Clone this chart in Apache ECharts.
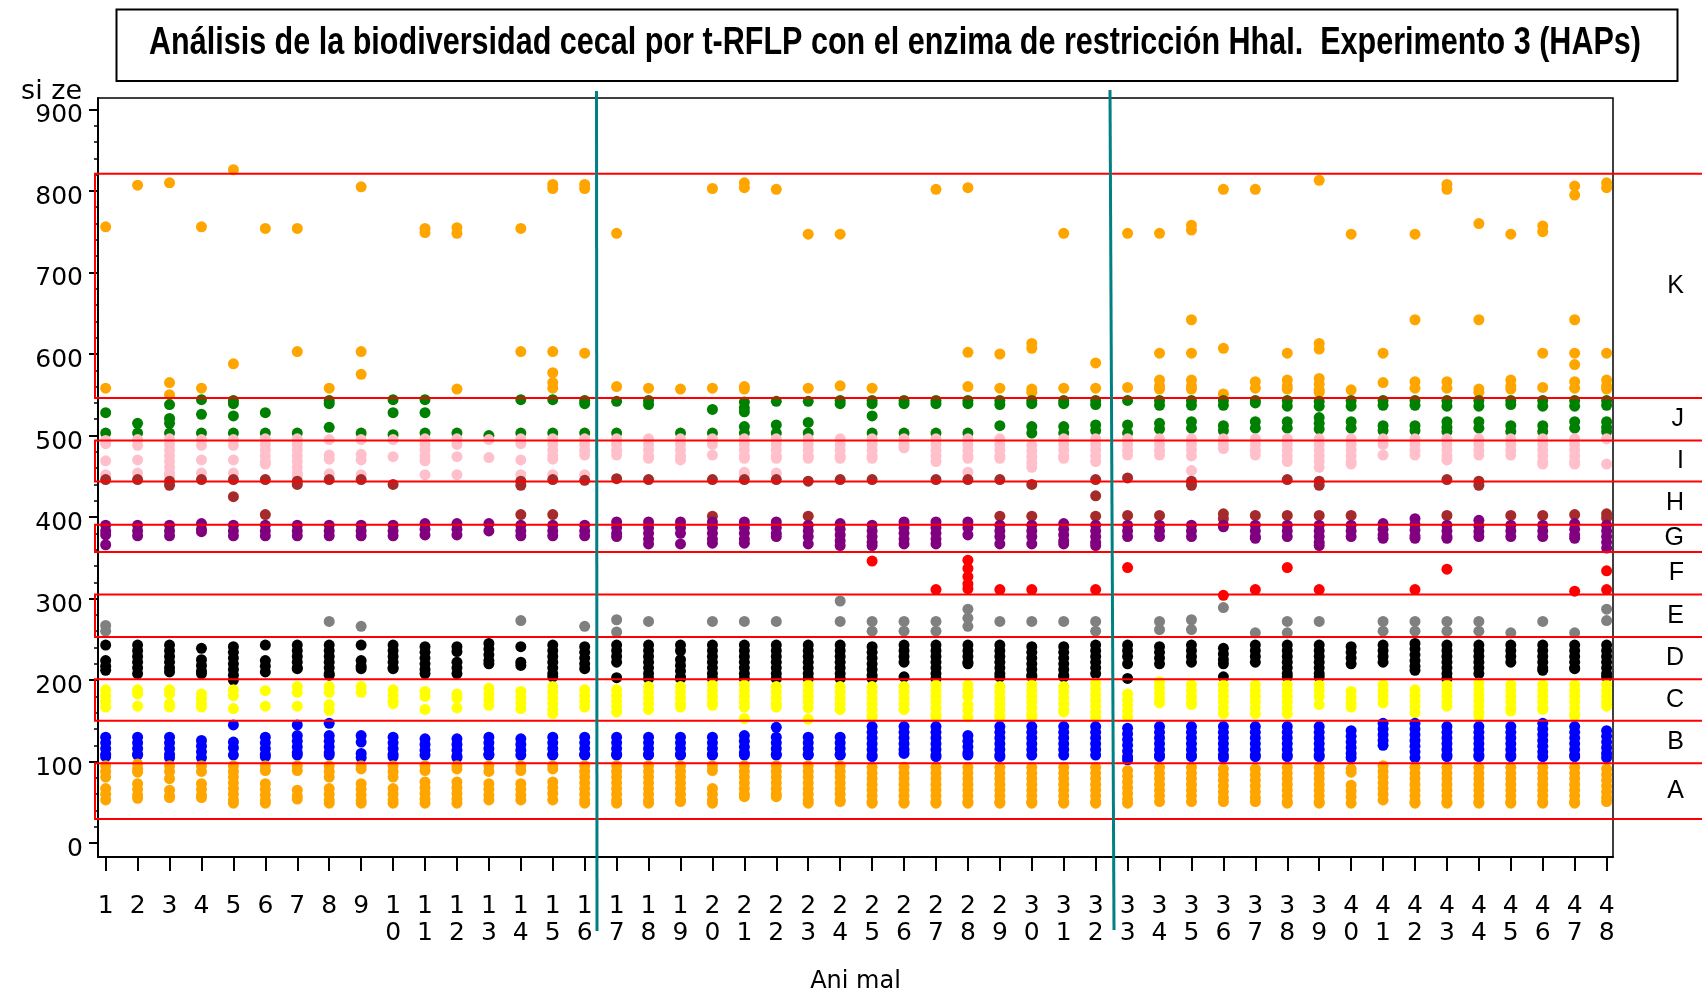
<!DOCTYPE html>
<html>
<head>
<meta charset="utf-8">
<script src="https://cdn.jsdelivr.net/npm/echarts@6/dist/echarts.min.js"></script>
<style>
  html, body { margin: 0; padding: 0; background: #ffffff; }
  #chart { width: 1702px; height: 991px; }
</style>
</head>
<body>
<div id="chart"></div>
<script>
// Animals on the x axis
const animals = [1,2,3,4,5,6,7,8,9,10,11,12,13,14,15,16,17,18,19,20,21,22,23,24,
                 25,26,27,28,29,30,31,32,33,34,35,36,37,38,39,40,41,42,43,44,45,46,47,48];

// Fragment sizes (bp) found in each animal, grouped by band; one list per animal
const bandA = [
  [95,88,81,67,60,53],[97,91,87,73,66,59,55],[95,88,79,65,58,56],[95,88,73,66,59,56],
  [95,88,81,74,67,60,53,49],[95,89,73,66,59,52,49],[95,89,65,58,54],[95,88,81,67,60,53,49],
  [95,91,73,66,59,52,49],[95,88,81,67,60,53,49],[95,89,75,68,61,54,49],[95,91,75,68,61,54,49],
  [95,88,73,66,59,53],[95,89,73,66,59,53],[95,91,75,68,61,53],[95,88,81,74,67,60,53,49],
  [95,88,81,74,67,60,53,49],[95,88,81,74,67,60,53,49],[95,88,81,74,67,60,53,51],[95,89,67,60,53,49],
  [95,88,81,74,67,60,57],[95,88,81,74,67,60,57],[95,88,81,74,67,60,53,49],[95,88,81,74,67,60,53,51],
  [93,86,79,72,65,58,51,49],[93,86,79,72,65,58,51,49],[93,86,79,72,65,58,51,49],[93,86,79,72,65,58,51,49],
  [93,86,79,72,65,58,51,49],[93,86,79,72,65,58,51,49],[93,86,79,72,65,58,51,49],[93,86,79,72,65,58,51,49],
  [89,82,75,68,61,54,49],[93,86,79,72,65,58,51],[93,86,79,72,65,58,51],[91,84,77,70,63,56,51],
  [91,84,77,70,63,56,51],[93,86,79,72,65,58,51,49],[93,86,79,72,65,58,51,49],[91,87,71,64,57,49],
  [95,88,81,74,67,60,53],[93,86,79,72,65,58,51,49],[93,86,79,72,65,58,51,49],[93,86,79,72,65,58,51,49],
  [93,86,79,72,65,58,51,49],[93,86,79,72,65,58,51,49],[93,86,79,72,65,58,51,49],[91,84,77,70,63,56,51]
];
const bandB = [
  [130,123,116,109,106],[130,123,116,109,108],[130,123,116,109,105],[126,119,112,105],
  [145,124,117,108],[130,123,116,109,106],[145,132,125,118,111,108],[147,132,125,118,111,108],
  [132,124,110,105],[130,123,116,109,106],[128,121,114,108],[128,121,114,107,105],
  [130,123,116,109,108],[128,121,114,108],[130,123,116,109,108],[130,123,116,109,108],
  [130,123,116,109,108],[130,123,116,109,108],[130,123,116,109,108],[130,123,116,109,108],
  [132,125,118,111,108],[142,130,123,116,109,108],[130,123,116,109,108],[130,123,116,109,108],
  [143,136,129,122,115,108,106],[143,136,129,122,115,110],[143,136,129,122,115,108,106],[132,125,118,111,108],
  [143,136,129,122,115,108,106],[143,136,129,122,115,108],[143,136,129,122,115,108],[143,136,129,122,115,108],
  [141,134,127,120,113,106,102],[143,136,129,122,115,108,106],[143,136,129,122,115,108,106],[143,136,129,122,115,108,105],
  [143,136,129,122,115,108,106],[143,136,129,122,115,108,106],[143,136,129,122,115,108,106],[138,131,124,117,110,105],
  [147,140,133,126,120],[147,140,133,126,119,112,105],[143,136,129,122,115,108,106],[143,136,129,122,115,108,106],
  [143,136,129,122,115,108,106],[147,140,133,126,119,112,106],[143,136,129,122,115,108,106],[138,131,124,117,110,105]
];
const bandC = [
  [188,181,174,167],[188,183,168],[188,183,171,167],[183,177,171,167],
  [188,181,165],[187,168],[192,185,168],[192,185,170,163],
  [192,185],[188,181,174,171],[186,180,164],[183,178,166],
  [190,183,176,169],[186,179,172,165],[192,185,178,171,164,159],[188,181,174,167],
  [188,181,174,167,161],[192,185,178,171,164],[192,185,178,171,167],[194,187,180,173,169],
  [194,187,180,173,167,153],[192,185,178,171,167],[194,187,180,173,166,152],[192,185,178,171,164],
  [192,185,178,171,164,157,155],[192,185,178,171,164],[194,187,180,173,166,159,155],[194,187,180,170,163,155],
  [192,185,178,171,164,157,155],[194,187,180,173,166,159,155],[192,185,178,171,164,161],[196,189,182,175,168,161,155],
  [183,176,169,162,155],[198,191,184,177,172],[194,187,180,173,170],[194,187,180,173,166,159],
  [194,187,180,173,166,159],[194,187,180,173,166,159],[194,187,180,170],[186,179,172,167],
  [194,187,180,172],[188,181,174,167,160],[194,187,180,173,168],[196,189,182,175,168,161,156],
  [194,187,180,173,166,162],[194,187,180,173,166,164],[194,187,180,173,166,159,156],[194,187,180,173,168]
];
const bandD = [
  [243,224,217,212],[243,236,229,222,215,208],[243,236,229,222,215,210],[239,225,218,211,208],
  [241,234,227,220,213,206,200],[243,224,217,210],[243,236,229,222,215,214],[243,236,229,222,215,208,206],
  [243,224,217,214],[243,236,229,222,215,214],[241,234,227,220,213,208],[241,235,222,215,208],
  [245,238,231,224,220],[241,222,218],[243,236,229,222,215,208,204],[241,234,227,220,214],
  [243,236,229,222,203],[243,236,229,222,215,208,202],[243,236,225,218,211,204,202],[243,236,229,222,215,208,202],
  [243,236,229,222,215,208,202],[243,236,229,222,215,208,202],[243,236,229,222,215,208,202],[243,236,229,222,215,208,202],
  [241,234,227,220,213,206,202],[243,236,229,222,204],[243,236,229,222,215,208,202],[243,236,229,222,220],
  [243,236,229,222,215,208,204],[241,234,227,220,213,206,204],[241,234,227,220,213,206,204],[243,236,229,222,215,208],
  [243,236,229,220,202],[241,234,227,220],[243,236,229,222],[239,232,225,220,204],
  [243,236,229,222],[243,236,229,222,215,208,204],[243,236,229,222,215,208,204],[241,234,227,220],
  [243,236,229,222],[245,238,231,224,217,212],[243,236,229,222,215,208,202],[243,236,229,222,215,208],
  [243,236,229,222],[243,236,229,222,215,212],[243,236,229,222,215,214],[243,236,229,222,215,208,204]
];
const bandE = [
  [267,260],[],[],[],[],[],[],[272],
  [266],[],[],[],[],[273],[],[266],
  [274,259],[272],[],[272],[272],[272],[],[297,272],
  [272,260],[272,260],[272,260],[287,276,266],[272],[272],[272],[272,260],
  [],[272,262],[274,262],[289],[258],[272,258],[272],[],
  [272,260],[272,260],[272,260],[272,260],[258],[272],[258],[287,273]
];
const bandF = [
  [],[],[],[],[],[],[],[],
  [],[],[],[],[],[],[],[],
  [],[],[],[],[],[],[],[],
  [346],[],[311],[347,337,327,318,312],[311],[311],[],[311],
  [338],[],[],[304],[311],[338],[311],[],
  [],[311],[336],[],[],[],[309],[334,311]
];
const bandG = [
  [390,383,378,366],[390,383,377],[390,383,377],[392,385,382],
  [390,383,377],[390,383,377],[390,383,377],[390,383,377],
  [390,383,377],[390,383,377],[392,385,378],[392,385,378],
  [392,383],[390,383,377],[390,383,377],[390,383,377],
  [394,387,380,376],[394,387,380,373,367],[394,387,380,367],[394,387,380,373,368],
  [394,387,380,373,368],[394,387,380,376],[390,383,376,367],[392,385,378,371,365],
  [390,383,376,369,365],[394,387,380,373,367],[394,387,380,373,367],[394,387,378],
  [390,383,376,367],[390,383,376,367],[392,385,378,371,367],[390,383,376,369,365],
  [390,383,376],[390,383,376],[390,383,376],[390,388],
  [390,383,376,374],[390,383,376],[390,383,376,369,365],[390,383,376],
  [392,385,378,374],[398,391,384,377,374],[390,383,376,374],[396,389,382,376],
  [390,383,376],[390,383,376],[392,385,378,374],[390,383,376,369,362]
];
const bandH = [
  [446],[446],[444,439],[446],[446,425],[446,403],[444,440],[446],
  [446],[440],[],[],[],[444,439,403],[446,403],[445],
  [447],[446],[],[446,401],[446],[446],[444,401],[446],
  [446],[],[446],[446],[446,401],[440,401],[],[446,426,401],
  [448,402],[402],[444,439],[404,398],[402],[446,402],[444,439,402],[402],
  [],[],[446,402],[444,439],[402],[402],[403],[404,399]
];
const bandI = [
  [494,490,469,452],[495,488,470,454],[496,489,482,475,468,461,454,451],[495,488,470,454],
  [495,488,470,454],[496,489,482,475,468,465],[496,489,482,475,468,461,454,451],[495,476,471,453],
  [495,477,470,452],[495,474],[496,489,482,475,469,452],[496,489,474,452],
  [495,473],[496,490,470,452],[496,489,482,475,471,452],[496,489,482,476,452],
  [496,489,482,476],[496,489,482,475,472],[496,489,482,475,470],[496,489,476],
  [496,489,482,475,472,455,452],[496,489,482,475,472,454],[496,489,482,475,472],[496,489,482,475,472],
  [496,489,482,475,472],[496,489,485],[496,489,482,475,468],[496,489,482,475,472,455],
  [496,489,482,475,472],[488,481,474,467,461],[496,489,482,475,472],[496,489,482,475,468],
  [496,489,482,476],[496,489,482,476],[496,489,482,475,457],[496,489,484],
  [496,489,482,476],[496,489,482,475,468],[496,489,482,475,468,461],[496,489,482,475,468,465],
  [496,489,476],[496,489,482,476],[496,489,482,475,470],[496,489,482,476],
  [496,489,482,476],[496,489,482,475,468,465],[496,489,482,475,468,465],[496,465]
];
const bandJ = [
  [528,503],[515,503],[538,521,515,503],[544,526,503],
  [543,539,524,503],[528,503],[503],[543,539,510],
  [503],[544,528,501],[544,528,503],[503],
  [500],[544,503],[544,503],[543,539,503],
  [542,503],[543,538],[503],[532,503],
  [541,534,529,511,503],[542,513,503],[542,516,503],[543,539],
  [543,539,524,503],[543,539,503],[543,539,503],[543,539,503],
  [543,538,512],[543,539,511,503],[543,539,511,503],[543,538,513,506],
  [543,513,503],[543,537,515,508],[543,537,517,509],[543,537,512,506],
  [543,540,517,509],[543,536,517,509],[542,536,522,515,508],[543,536,517,509],
  [543,537,512,506],[543,537,512,506],[543,536,517,510,505],[543,536,517,509],
  [543,538,512,505],[543,536,512,505],[543,536,517,509],[543,537,517,510,505]
];
const bandK = [
  [756,558],[807],[810,565,550],[756,558],[826,588],[754],[754,603],[558],
  [805,603,575],[],[754,749],[755,748,557],[],[754,603],[808,803,603,577,565,558],[808,803,601],
  [748,560],[558],[557],[803,558],[810,804,560,557],[802],[747,558],[747,561],
  [558],[],[802],[804,602,560],[600,558],[613,607,557,553],[748,558],[589,558],
  [748,559],[748,601,568,561,557],[758,752,642,601,568,561,557],[802,607,551],[802,566,558],[601,568,561,557],[813,613,606,570,563,556,553],[747,556],
  [601,565],[747,642,566,558],[808,802,566,558],[760,642,557,553],[747,568,561,557],[757,750,601,559],[806,795,642,601,587,566,558],[810,804,601,568,561,557]
];

// Band letters and their size limits (bp)
const bandLetters = ['A','B','C','D','E','F','G','H','I','J','K'];
const bandLimits = [[29.5,98],[98,150],[150,201],[201,253],[253,305],[305,357],
                    [357,390.5],[390.5,443.5],[443.5,494],[494,546],[546,821]];
const boxedBands = ['A','C','E','G','I','K'];

// Size axis ticks
const sizeTicks = [0,100,200,300,400,500,600,700,800,900];
const minorSizeTicks = [20,40,60,80,120,140,160,180,220,240,260,280,320,340,360,380,
                        420,440,460,480,520,540,560,580,620,640,660,680,720,740,760,780,
                        820,840,860,880];

const titleText = 'Análisis de la biodiversidad cecal por t-RFLP con el enzima de restricción HhaI.  Experimento 3 (HAPs)';

const bandPoints = { A: bandA, B: bandB, C: bandC, D: bandD, E: bandE, F: bandF,
                     G: bandG, H: bandH, I: bandI, J: bandJ, K: bandK };
const bandColors = { A: '#FFA500', B: '#0000FF', C: '#FFFF00', D: '#000000', E: '#808080',
                     F: '#FF0000', G: '#800080', H: '#A52A2A', I: '#FFC0CB', J: '#008000', K: '#FFA500' };
const drawOrder = ['K','J','I','H','G','F','E','D','C','B','A'];

const numFont = 'DejaVu Sans';

const chart = echarts.init(document.getElementById('chart'), null, { renderer: 'canvas' });

const option = {
  animation: false,
  backgroundColor: '#ffffff',
  grid: {
    left: 98, right: 89, top: 98, bottom: 134,
    outerBoundsMode: 'none',
    show: true, borderColor: '#000', borderWidth: 1.5
  },
  xAxis: {
    type: 'value', min: 0.76, max: 48.2,
    name: 'Ani mal', nameLocation: 'middle', nameGap: 125,
    nameTextStyle: { fontFamily: numFont, fontSize: 24, color: '#000', verticalAlign: 'middle' },
    axisLine: { onZero: false, lineStyle: { color: '#000', width: 2 } },
    axisTick: { customValues: animals, length: 14, lineStyle: { color: '#000', width: 2 } },
    axisLabel: {
      customValues: animals, margin: 35.5, verticalAlign: 'top',
      formatter: v => String(v).split('').join('\n'),
      fontFamily: numFont, fontSize: 25, lineHeight: 27, color: '#000'
    },
    splitLine: { show: false }
  },
  yAxis: [
    {
      type: 'value', position: 'left', min: -17, max: 914,
      name: 'si ze', nameLocation: 'end', nameGap: 6, nameMoveOverlap: false,
      nameTextStyle: { fontFamily: numFont, fontSize: 27, color: '#000', align: 'right',
                       verticalAlign: 'middle', padding: [0, 16, 0, 0] },
      axisLine: { onZero: false, lineStyle: { color: '#000', width: 2 } },
      axisTick: { customValues: sizeTicks, length: 9, lineStyle: { color: '#000', width: 2 } },
      axisLabel: { customValues: sizeTicks, margin: 15, verticalAlign: 'top', lineHeight: 13,
                   fontFamily: numFont, fontSize: 25, color: '#000' },
      splitLine: { show: false }
    },
    {
      type: 'value', position: 'left', offset: 0, min: -17, max: 914,
      axisLine: { show: false },
      axisTick: { customValues: minorSizeTicks, length: 4, lineStyle: { color: '#000', width: 1.5 } },
      axisLabel: { show: false },
      splitLine: { show: false }
    }
  ],
  series: drawOrder.map(b => ({
    type: 'scatter',
    name: b,
    symbol: 'circle',
    symbolSize: 11,
    silent: true,
    itemStyle: { color: bandColors[b], opacity: 1 },
    data: bandPoints[b].flatMap((sizes, i) => sizes.map(s => [animals[i], s]))
  }))
};

chart.setOption(option);

// Band boxes, band letters, title box and group dividers
const yPx = v => chart.convertToPixel({ yAxisIndex: 0 }, v);
const graphics = [];

boxedBands.forEach(letter => {
  const [lo, hi] = bandLimits[bandLetters.indexOf(letter)];
  const top = yPx(hi), bottom = yPx(lo);
  graphics.push({
    type: 'rect', z: 50, silent: true,
    shape: { x: 95, y: top, width: 1620, height: bottom - top },
    style: { fill: 'none', stroke: '#FF0000', lineWidth: 2 }
  });
});

bandLetters.forEach((letter, i) => {
  const [lo, hi] = bandLimits[i];
  graphics.push({
    type: 'text', z: 60, silent: true,
    style: {
      text: letter, x: 1684, y: yPx((lo + hi) / 2),
      textAlign: 'right', textVerticalAlign: 'middle',
      font: '25px "Liberation Sans", Arial, sans-serif', fill: '#000'
    }
  });
});

// Title in a narrow bold face: squeeze a regular bold face to the title width
const titleFont = 'bold 38px "Liberation Sans", Arial, sans-serif';
const measureCtx = document.createElement('canvas').getContext('2d');
measureCtx.font = titleFont;
const titleScale = Math.min(1, 1492 / measureCtx.measureText(titleText).width);

graphics.push({
  type: 'rect', z: 60, silent: true,
  shape: { x: 116.5, y: 9.5, width: 1561, height: 71.5 },
  style: { fill: 'none', stroke: '#000', lineWidth: 2 }
});
graphics.push({
  type: 'text', z: 61, silent: true,
  x: 895, y: 44, scaleX: titleScale, scaleY: 1,
  style: {
    text: titleText, x: 0, y: 0,
    textAlign: 'center', textVerticalAlign: 'middle',
    font: titleFont, fill: '#000'
  }
});

graphics.push({
  type: 'line', z: 70, silent: true,
  shape: { x1: 596.5, y1: 91, x2: 597, y2: 931 },
  style: { stroke: '#008080', lineWidth: 3 }
});
graphics.push({
  type: 'line', z: 70, silent: true,
  shape: { x1: 1110, y1: 90, x2: 1114, y2: 930 },
  style: { stroke: '#008080', lineWidth: 3 }
});

chart.setOption({ graphic: graphics });
</script>
</body>
</html>
